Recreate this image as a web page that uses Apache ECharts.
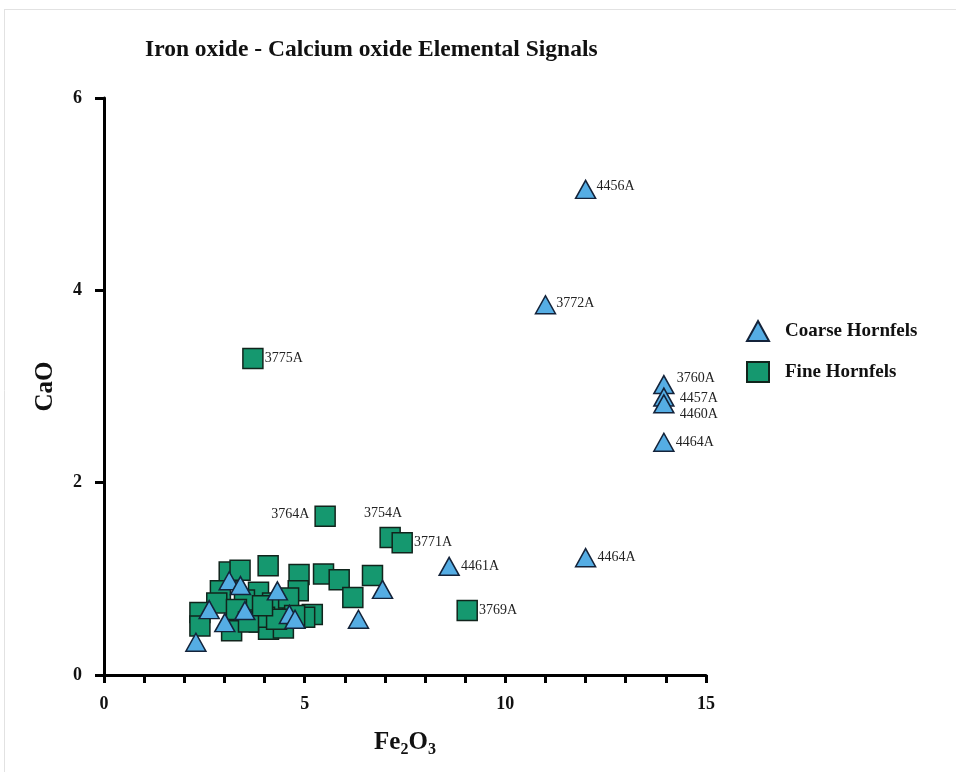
<!DOCTYPE html>
<html>
<head>
<meta charset="utf-8">
<script src="https://cdn.jsdelivr.net/npm/echarts@6/dist/echarts.min.js"></script>
<style>
  html, body { margin: 0; padding: 0; background: #fff; }
  #chart { width: 956px; height: 772px; }
</style>
</head>
<body>
<div id="chart"></div>
<script>
// Coarse hornfels samples (Fe2O3 %, CaO %)
const coarseX = [12.0, 11.0, 13.95, 13.95, 13.95, 13.95, 12.0, 8.6,
                 3.12, 3.4, 4.32, 2.62, 3.51, 3.01, 2.29, 4.62, 4.76, 6.34, 6.94];
const coarseY = [5.05, 3.85, 3.02, 2.89, 2.82, 2.42, 1.22, 1.13,
                 0.98, 0.93, 0.875, 0.68, 0.67, 0.545, 0.34, 0.63, 0.58, 0.58, 0.89];
const coarseNames = ['4456A', '3772A', '3760A', '4457A', '4460A', '4464A', '4464A', '4461A',
                     '', '', '', '', '', '', '', '', '', '', ''];

// Fine hornfels samples (Fe2O3 %, CaO %)
const fineX = [3.71, 5.51, 7.13, 7.43, 9.05,
               4.09, 3.12, 3.39, 4.86, 5.47, 5.86, 6.69, 6.2, 2.9, 2.81, 2.39, 2.39,
               3.18, 3.85, 3.8, 3.87, 4.1, 4.84, 5.19, 4.47, 4.39, 3.5, 4.2, 4.6,
               3.3, 4.0, 5.0, 4.75, 3.6, 4.3, 3.95];
const fineY = [3.29, 1.65, 1.43, 1.375, 0.67,
               1.135, 1.07, 1.09, 1.045, 1.05, 0.99, 1.035, 0.805, 0.875, 0.75, 0.65, 0.51,
               0.46, 0.86, 0.65, 0.55, 0.475, 0.875, 0.63, 0.49, 0.67, 0.78, 0.75, 0.8,
               0.68, 0.6, 0.6, 0.62, 0.55, 0.58, 0.72];
const fineNames = ['3775A', '3764A', '3754A', '3771A', '3769A',
                   '', '', '', '', '', '', '', '', '', '', '', '',
                   '', '', '', '', '', '', '', '', '', '', '', '',
                   '', '', '', '', '', '', ''];

// Axis ticks
const xTicks = [0, 5, 10, 15];
const yTicks = [0, 2, 4, 6];

const serif = '"Liberation Serif", "Times New Roman", serif';

// Where each sample label sits relative to its marker
const labelPlacement = {
  '4456A': { position: 'right', offset: [-4, -3] },
  '3772A': { position: 'right', offset: [-4, -1] },
  '3760A': { position: 'right', offset: [-2, -6] },
  '4457A': { position: 'right', offset: [1, 1] },
  '4460A': { position: 'right', offset: [1, 11] },
  '3764A': { position: 'left', offset: [-1, -2] },
  '3754A': { position: 'top', offset: [-7, -2] }
};

function buildData(xs, ys, names) {
  return xs.map((x, i) => {
    const name = names[i];
    const item = { value: [x, ys[i]], name: name };
    if (name) {
      const p = labelPlacement[name] || { position: 'right', offset: [-3, 0] };
      item.label = { show: true, formatter: name, position: p.position, offset: p.offset };
    }
    return item;
  });
}

const labelStyle = {
  show: false,
  fontFamily: serif,
  fontSize: 14,
  color: '#222',
  distance: 4
};

const chart = echarts.init(document.getElementById('chart'), null, { renderer: 'canvas' });

chart.setOption({
  animation: false,
  backgroundColor: '#fff',
  title: {
    text: 'Iron oxide - Calcium oxide Elemental Signals',
    left: 140,
    top: 33,
    textStyle: { fontFamily: serif, fontWeight: 'bold', fontSize: 23.5, color: '#111' }
  },
  graphic: [
    { type: 'line', shape: { x1: 4, y1: 9.5, x2: 956, y2: 9.5 }, style: { stroke: '#e2e2e2', lineWidth: 1 } },
    { type: 'line', shape: { x1: 4.5, y1: 9, x2: 4.5, y2: 772 }, style: { stroke: '#e2e2e2', lineWidth: 1 } }
  ],
  legend: {
    orient: 'vertical',
    left: 741,
    top: 315,
    itemWidth: 22,
    itemHeight: 20,
    itemGap: 19,
    textStyle: { fontFamily: serif, fontWeight: 'bold', fontSize: 19, color: '#111', padding: [0, 0, 0, 11] },
    data: [
      { name: 'Coarse Hornfels', icon: 'triangle' },
      { name: 'Fine Hornfels', icon: 'rect' }
    ]
  },
  grid: { left: 104, top: 98, width: 602, height: 577, containLabel: false },
  xAxis: {
    type: 'value',
    min: xTicks[0],
    max: xTicks[xTicks.length - 1],
    interval: xTicks[1] - xTicks[0],
    name: '{a|Fe}{s|2}{a|O}{s|3}',
    nameLocation: 'middle',
    nameGap: 55,
    nameTextStyle: {
      rich: {
        a: { fontFamily: serif, fontWeight: 'bold', fontSize: 25, color: '#111', verticalAlign: 'bottom' },
        s: { fontFamily: serif, fontWeight: 'bold', fontSize: 16, color: '#111', verticalAlign: 'bottom', padding: [0, 0, -3, 0] }
      }
    },
    axisLine: { show: true, onZero: false, lineStyle: { color: '#000', width: 3 } },
    axisTick: { show: true, length: 8, lineStyle: { color: '#000', width: 3 } },
    minorTick: { show: true, splitNumber: 5, length: 8, lineStyle: { color: '#000', width: 3 } },
    axisLabel: { fontFamily: serif, fontWeight: 'bold', fontSize: 18, color: '#111', margin: 20 },
    splitLine: { show: false }
  },
  yAxis: {
    type: 'value',
    min: yTicks[0],
    max: yTicks[yTicks.length - 1],
    interval: yTicks[1] - yTicks[0],
    name: 'CaO',
    nameLocation: 'middle',
    nameGap: 46,
    nameTextStyle: { fontFamily: serif, fontWeight: 'bold', fontSize: 25, color: '#111' },
    axisLine: { show: true, onZero: false, lineStyle: { color: '#000', width: 3 } },
    axisTick: { show: true, length: 9, lineStyle: { color: '#000', width: 3 } },
    axisLabel: { fontFamily: serif, fontWeight: 'bold', fontSize: 18, color: '#111', margin: 22 },
    splitLine: { show: false }
  },
  series: [
    {
      name: 'Fine Hornfels',
      type: 'scatter',
      symbol: 'rect',
      symbolSize: 20,
      z: 2,
      itemStyle: { color: '#15986F', borderColor: '#11241c', borderWidth: 1.5, opacity: 1 },
      label: labelStyle,
      emphasis: { disabled: true },
      data: buildData(fineX, fineY, fineNames)
    },
    {
      name: 'Coarse Hornfels',
      type: 'scatter',
      symbol: 'triangle',
      symbolSize: [20, 18],
      z: 3,
      itemStyle: { color: '#55ADE4', borderColor: '#14233a', borderWidth: 1.5, opacity: 1 },
      label: labelStyle,
      emphasis: { disabled: true },
      data: buildData(coarseX, coarseY, coarseNames)
    }
  ]
});
</script>
</body>
</html>
